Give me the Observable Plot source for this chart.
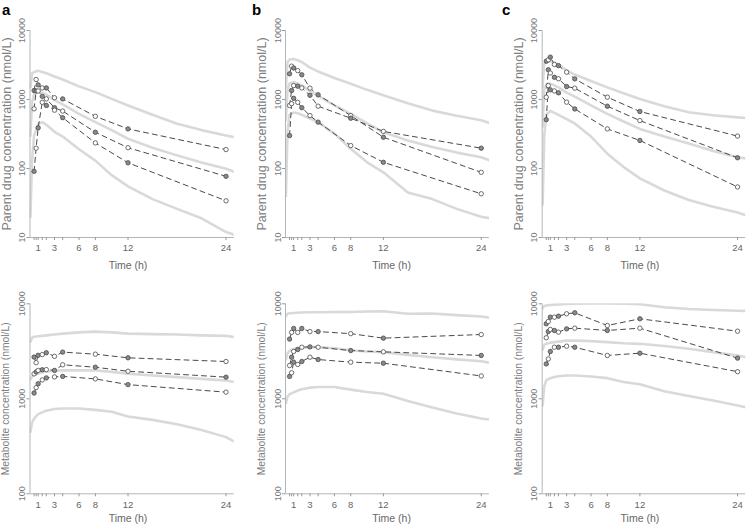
<!DOCTYPE html>
<html><head><meta charset="utf-8">
<script src="https://cdn.jsdelivr.net/npm/d3@7"></script>
<script src="https://cdn.jsdelivr.net/npm/@observablehq/plot@0.6"></script>
<style>
body{margin:0;background:#fff;}
#wrap{position:relative;width:747px;height:527px;overflow:hidden;font-family:Arial,"Liberation Sans",sans-serif;background:#fff;}
.panel{position:absolute;}
.letter{position:absolute;font-weight:bold;font-size:15px;color:#000;line-height:1;}
</style></head><body><div id="wrap"></div>
<script>
// ---- Data ----
const times = [0.5, 0.75, 1, 1.5, 2, 3, 4, 8, 12, 24];
const simTimes = [0.05, 0.25, 0.5, 1, 1.5, 2, 3, 4, 6, 8, 10, 12, 15, 18, 21, 24, 25];
const xTickLabels = [1, 3, 6, 8, 12, 24];
const xTickMarks = [0.5, 0.75, 1, 1.5, 2, 3, 4, 6, 8, 12, 24];
const parentTicks = [10, 100, 1000, 10000];
const metaboliteTicks = [100, 1000, 10000];
const panelLetters = ["a", "b", "c"];
const parentLabel = "Parent drug concentration (nmol/L)";
const metaboliteLabel = "Metabolite concentration (nmol/L)";
const timeLabel = "Time (h)";

// Parent drug, observed subjects
const parentA1 = [1350, 1950, 1630, 1470, 1470, 1060, 1020, 570, 375, 188];
const parentA2 = [733, 1330, 1330, 1110, 1020, 760, 680, 335, 200, 77];
const parentA3 = [91, 197, 389, 910, 820, 700, 545, 235, 121, 34];
const parentB1 = [2355, 3040, 2860, 2620, 2280, 1460, 1170, 585, 284, 88];
const parentB2 = [818, 1350, 1590, 1560, 1470, 1150, 800, 535, 345, 197];
const parentB3 = [300, 870, 1040, 910, 760, 585, 470, 215, 123, 43];
const parentC1 = [3590, 3760, 4110, 3220, 3100, 2490, 1990, 1080, 670, 295];
const parentC2 = [1080, 2700, 2420, 2100, 2000, 1540, 1460, 800, 495, 143];
const parentC3 = [510, 1590, 1380, 1330, 1250, 915, 730, 375, 255, 54];
// Parent drug, simulated 5th / median / 95th percentiles
const parentALo = [20, 130, 300, 440, 470, 430, 340, 290, 190, 130, 80, 55, 36, 26, 19, 12, 11];
const parentAMed = [300, 900, 1200, 1300, 1250, 1180, 980, 850, 620, 470, 360, 270, 200, 155, 122, 99, 90];
const parentAHi = [1500, 2400, 2500, 2600, 2500, 2400, 2150, 1950, 1550, 1280, 1020, 820, 600, 445, 360, 300, 285];
const parentBLo = [40, 350, 600, 650, 630, 600, 530, 470, 320, 193, 123, 88, 45, 36, 26, 20, 19];
const parentBMed = [500, 1400, 1700, 1780, 1700, 1600, 1320, 1130, 820, 620, 450, 335, 255, 205, 170, 146, 132];
const parentBHi = [1500, 3500, 3800, 3850, 3700, 3500, 2900, 2550, 2050, 1690, 1380, 1150, 880, 690, 580, 500, 455];
const parentCLo = [30, 300, 600, 680, 640, 600, 520, 450, 290, 164, 105, 72, 48, 35, 28, 23, 21];
const parentCMed = [400, 1400, 1650, 1700, 1600, 1500, 1260, 1100, 820, 620, 480, 375, 290, 230, 180, 146, 140];
const parentCHi = [1500, 3300, 3500, 3600, 3400, 3200, 2650, 2300, 1850, 1500, 1230, 1020, 800, 655, 590, 550, 540];

// Metabolite, observed subjects
const metabA1 = [2750, 2400, 2870, 2920, 3050, 2800, 3100, 2950, 2700, 2470];
const metabA2 = [1830, 1920, 1990, 2020, 2030, 1990, 2280, 2150, 1950, 1690];
const metabA3 = [1150, 1310, 1440, 1580, 1660, 1700, 1720, 1620, 1410, 1175];
const metabB1 = [4250, 5000, 5500, 5000, 5500, 5100, 5100, 4850, 4350, 4750];
const metabB2 = [2240, 2740, 3150, 3300, 3490, 3520, 3490, 3220, 3120, 2860];
const metabB3 = [1720, 1880, 2430, 2300, 2470, 2740, 2590, 2430, 2370, 1740];
const metabC1 = [6160, 6510, 7230, 7230, 7410, 7850, 8040, 5910, 6950, 5150];
const metabC2 = [4390, 5110, 5370, 5240, 5030, 5450, 5540, 5240, 5540, 2680];
const metabC3 = [2330, 2630, 3150, 3490, 3490, 3580, 3490, 2860, 3020, 1930];
// Metabolite, simulated 5th / median / 95th percentiles
const metabALo = [450, 560, 620, 690, 720, 750, 780, 790, 790, 765, 730, 650, 600, 540, 470, 395, 355];
const metabAMed = [1600, 1700, 1780, 1850, 1900, 1930, 1970, 1990, 2000, 1990, 1920, 1840, 1760, 1690, 1620, 1560, 1500];
const metabAHi = [4000, 4400, 4500, 4550, 4600, 4650, 4750, 4850, 5000, 5100, 5000, 4850, 4800, 4750, 4650, 4600, 4450];
const metabBLo = [900, 1050, 1120, 1170, 1220, 1260, 1310, 1330, 1330, 1250, 1180, 1130, 950, 810, 700, 620, 605];
const metabBMed = [2600, 3000, 3200, 3350, 3420, 3460, 3500, 3500, 3400, 3250, 3150, 3100, 2900, 2740, 2600, 2480, 2400];
const metabBHi = [7400, 7850, 7950, 8000, 8050, 8100, 8150, 8160, 8200, 8200, 8300, 8350, 7850, 7900, 7600, 7350, 7150];
const metabCLo = [850, 1350, 1560, 1650, 1700, 1730, 1760, 1760, 1720, 1650, 1500, 1420, 1200, 1070, 960, 850, 815];
const metabCMed = [3300, 3700, 3800, 3900, 3950, 4000, 4100, 4100, 4050, 3950, 3850, 3790, 3600, 3360, 3100, 2860, 2740];
const metabCHi = [9000, 9500, 9600, 9700, 9800, 9850, 9950, 10000, 10100, 10100, 10000, 9900, 9200, 8800, 8600, 8450, 8400];

// ---- Layout ----
const rows = [
  {top: 0, height: 275, mT: 30, mB: 38, domain: [10, 10000], ticks: parentTicks, label: parentLabel, labelSize: 12.5, xLabelDy: 28},
  {top: 275, height: 252, mT: 28.3, mB: 33.7, domain: [100, 10000], ticks: metaboliteTicks, label: metaboliteLabel, labelSize: 10.3, xLabelDy: 25}
];
const cols = [
  {left: 0, width: 247, mL: 29.5, mR: 13.3, xLabelAt: 12},
  {left: 250, width: 248, mL: 35, mR: 9.1, xLabelAt: 13},
  {left: 500, width: 247, mL: 41.7, mR: 1.8, xLabelAt: 12}
];
const observed = [
  [[parentA1, parentA2, parentA3], [parentB1, parentB2, parentB3], [parentC1, parentC2, parentC3]],
  [[metabA1, metabA2, metabA3], [metabB1, metabB2, metabB3], [metabC1, metabC2, metabC3]]
];
const simulated = [
  [[parentALo, parentAMed, parentAHi], [parentBLo, parentBMed, parentBHi], [parentCLo, parentCMed, parentCHi]],
  [[metabALo, metabAMed, metabAHi], [metabBLo, metabBMed, metabBHi], [metabCLo, metabCMed, metabCHi]]
];

const wrap = document.getElementById("wrap");
rows.forEach((row, r) => {
  cols.forEach((col, c) => {
    const obsRows = observed[r][c].flatMap((vals, k) => vals.map((v, i) => ({t: times[i], v, k, i})));
    const simRows = simulated[r][c].flatMap((vals, k) => vals.map((v, i) => ({t: simTimes[i], v, k})));
    const chart = Plot.plot({
      width: col.width,
      height: row.height,
      marginLeft: col.mL,
      marginRight: col.mR,
      marginTop: row.mT,
      marginBottom: row.mB,
      style: {background: "transparent", overflow: "visible", color: "#666", fontFamily: "Arial, 'Liberation Sans', sans-serif"},
      x: {domain: [0, 25]},
      y: {type: "log", domain: row.domain},
      marks: [
        Plot.line(simRows, {x: "t", y: "v", z: "k", stroke: "#d9d9d9", strokeWidth: 2.6, clip: true}),
        Plot.ruleX([0], {stroke: "#b5b5b5", strokeWidth: 1}),
        Plot.ruleY([row.domain[0]], {stroke: "#b5b5b5", strokeWidth: 1}),
        Plot.line(obsRows, {x: "t", y: "v", z: "k", stroke: "#4a4a4a", strokeWidth: 1, strokeDasharray: "5,4"}),
        Plot.dot(obsRows, {x: "t", y: "v", r: 2.2, stroke: "#4a4a4a", strokeWidth: 0.8,
          fill: d => ((d.i + d.k) % 2 === 0 ? "#8a8a8a" : "#ffffff")}),
        Plot.axisX({ticks: xTickMarks, tickSize: 3, tickFormat: () => "", label: null, stroke: "#999"}),
        Plot.axisX({ticks: xTickLabels, tickSize: 0, tickPadding: 7, fontSize: 9.5, label: null, fill: "#666"}),
        Plot.axisY({ticks: row.ticks, tickFormat: d => String(d), tickRotate: -90, tickSize: 3, tickPadding: 2,
          fontSize: 9, label: null, fill: "#777", stroke: "#999"}),
        Plot.text([row.label], {frameAnchor: "left", rotate: -90, dx: -28, textAnchor: "middle", lineAnchor: "top",
          fontSize: row.labelSize, fill: "#808080", text: d => d}),
        Plot.text([timeLabel], {x: () => col.xLabelAt, frameAnchor: "bottom", dy: row.xLabelDy,
          lineAnchor: "middle", fontSize: 10.5, fill: "#666", text: d => d})
      ]
    });
    const holder = document.createElement("div");
    holder.className = "panel";
    holder.style.left = col.left + "px";
    holder.style.top = row.top + "px";
    holder.appendChild(chart);
    wrap.appendChild(holder);
  });
});
panelLetters.forEach((letter, c) => {
  const el = document.createElement("div");
  el.className = "letter";
  el.textContent = letter;
  el.style.left = (cols[c].left + 2) + "px";
  el.style.top = "2px";
  wrap.appendChild(el);
});
</script></body></html>
